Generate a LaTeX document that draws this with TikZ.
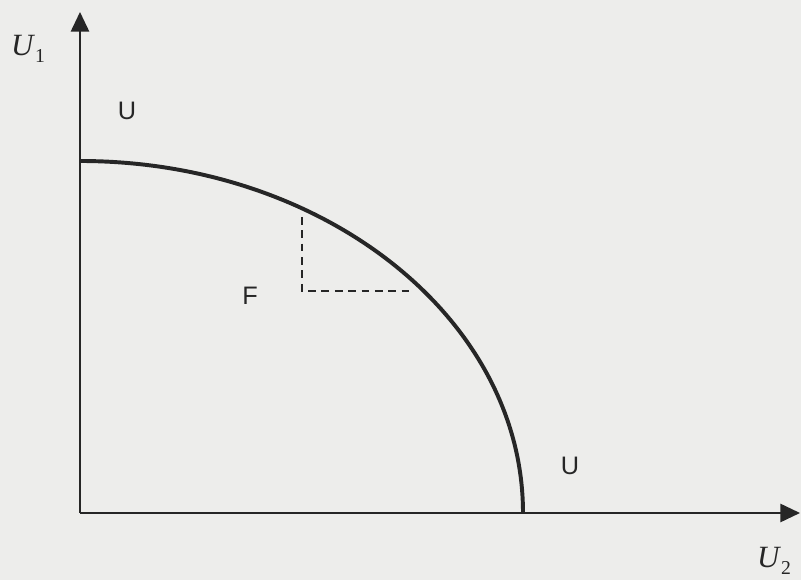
\documentclass[tikz,border=0pt]{standalone}
\usepackage{amsmath,amssymb}
\usepackage{fontspec}
\setmainfont{Liberation Serif}
\setsansfont{Liberation Sans}
\usepackage{tikz}
\usetikzlibrary{arrows.meta,positioning}
\usepackage{xcolor}
\definecolor{paper}{RGB}{237, 237, 235}
\definecolor{ink}{RGB}{38, 38, 38}

\begin{document}
\begin{tikzpicture}[
    axis/.style={ink, line width=1.4pt, -{Triangle[length=14pt,width=13pt]}},
    region/.style={font=\sffamily\fontsize{18}{18}\selectfont, text=ink},
    axlabel/.style={font=\fontsize{22}{22}\selectfont, text=ink}
  ]
    % Paper
    \fill[paper] (-2,-1.675) rectangle (18.025,12.825);
    \useasboundingbox (-2,-1.675) rectangle (18.025,12.825);

    % Points
    \coordinate (O) at (0,0);
    \coordinate (ytop) at (0,12.525);
    \coordinate (xend) at (18.0,0);
    \coordinate (start) at (0,8.8);
    \coordinate (finish) at (11.075,0);
    \coordinate (corner) at (5.55,5.55);
    \coordinate (upper) at (5.55,7.4);
    \coordinate (right) at (8.35,5.55);

    % Axes
    \draw[axis] (O) -- (ytop);
    \draw[axis] (O) -- (xend);
    \node[axlabel] (u1) at (-1.3,11.6) {\textit{U}\raisebox{-0.45ex}{\fontsize{14}{14}\selectfont 1}};
    \node[axlabel] (u2) at (17.35,-1.2) {\textit{U}\raisebox{-0.45ex}{\fontsize{14}{14}\selectfont 2}};

    % Frontier
    \draw[ink, line width=2.8pt]
        (start) .. controls (6.125,8.8) and (11.075,4.85) .. (finish);

    % Dashed step
    \draw[ink, line width=1.5pt, dash pattern=on 5.5pt off 4pt]
        (upper) -- (corner) -- (right);

    % Regions
    \node[region] (uout) at (1.175,10.05) {U};
    \node[region] (feas) at (4.25,5.425) {F};
    \node[region] (uin) at (12.25,1.175) {U};
\end{tikzpicture}
\end{document}
